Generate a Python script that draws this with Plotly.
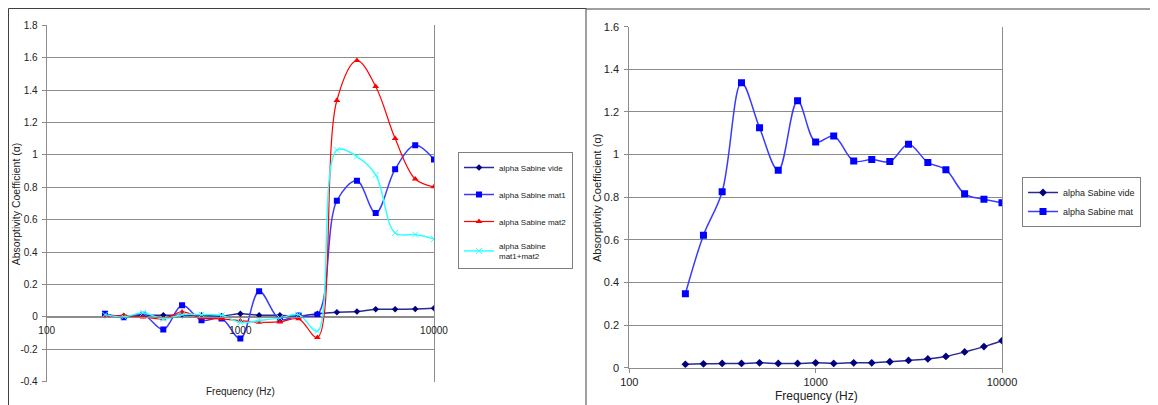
import plotly.graph_objects as go

# ---------------- data ----------------
freq = [200, 250, 315, 400, 500, 630, 800, 1000, 1250, 1600, 2000, 2500,
        3150, 4000, 5000, 6300, 8000, 10000]

# left chart
left_vide = [0.01, 0.005, 0.01, 0.01, 0.01, 0.01, 0.005, 0.02, 0.01, 0.01, 0.005, 0.02,
             0.029, 0.033, 0.047, 0.047, 0.049, 0.053]
left_mat1 = [0.02, -0.002, 0.014, -0.078, 0.072, -0.02, -0.01, -0.134, 0.158, -0.016, 0.008, 0.014,
             0.717, 0.84, 0.641, 0.912, 1.06, 0.972]
left_mat2 = [0.004, 0.008, 0.0, -0.012, 0.031, -0.006, -0.012, -0.023, -0.033, -0.031, -0.012, -0.127,
             1.336, 1.582, 1.422, 1.101, 0.851, 0.803]
left_mat12 = [0.014, 0.0, 0.025, -0.012, 0.014, 0.014, 0.01, -0.035, -0.022, -0.006, 0.014, -0.088,
              1.03, 0.99, 0.877, 0.518, 0.508, 0.481]

# right chart
right_vide = [0.016, 0.018, 0.02, 0.02, 0.023, 0.02, 0.02, 0.023, 0.02, 0.023, 0.023, 0.028,
              0.034, 0.041, 0.053, 0.074, 0.099, 0.127]
right_mat = [0.347, 0.622, 0.826, 1.337, 1.126, 0.926, 1.253, 1.059, 1.087, 0.970, 0.977, 0.967,
             1.049, 0.963, 0.929, 0.816, 0.790, 0.774]

left_yticks = [-0.4, -0.2, 0, 0.2, 0.4, 0.6, 0.8, 1, 1.2, 1.4, 1.6, 1.8]
left_ytext = ["-0.4", "-0.2", "0", "0.2", "0.4", "0.6", "0.8", "1", "1.2", "1.4", "1.6", "1.8"]
right_yticks = [0, 0.2, 0.4, 0.6, 0.8, 1, 1.2, 1.4, 1.6]
right_ytext = ["0", "0.2", "0.4", "0.6", "0.8", "1", "1.2", "1.4", "1.6"]
xticks = [100, 1000, 10000]
xtext = ["100", "1000", "10000"]

# ---------------- layout geometry ----------------
# the page body has an 8px margin, so the figure is offset by 8px
OFF = 8
W, H = 1158 - OFF, 405 - OFF
def px(x):
    return (x - OFF) / W
def py(y):
    return 1 - (y - OFF) / H

GRID = "#8c8c8c"
TXT = "#222222"
FONT = "Liberation Sans, Arial, sans-serif"

L_x0, L_x1, L_y0, L_y1 = 46.7, 434, 25.3, 381.7
R_x0, R_x1, R_y0, R_y1 = 629.3, 1002, 26.7, 367.7
L_ymin, L_ymax = -0.4, 1.8
zero_frac = py(L_y1) + (0 - L_ymin) / (L_ymax - L_ymin) * (py(L_y0) - py(L_y1))

fig = go.Figure()

NAVY = "#000080"
NAVYL = "#2a2a90"
BLUE = "#0000ff"
BLUEL = "#3b3bff"
RED = "#ff0000"
CYAN = "#33ffff"

sm = 1.0
# left traces
fig.add_trace(go.Scatter(x=freq, y=left_vide, name="alpha Sabine vide", mode="lines+markers",
                         line=dict(color=NAVYL, width=1.5, shape="spline", smoothing=sm),
                         marker=dict(symbol="diamond", size=5, color=NAVY),
                         xaxis="x", yaxis="y", legend="legend", legendgroup="a"))
fig.add_trace(go.Scatter(x=freq, y=left_mat1, name="alpha Sabine mat1", mode="lines+markers",
                         line=dict(color=BLUEL, width=1.5, shape="spline", smoothing=sm),
                         marker=dict(symbol="square", size=6, color=BLUE),
                         xaxis="x", yaxis="y", legend="legend", legendgroup="b"))
fig.add_trace(go.Scatter(x=freq, y=left_mat2, name="alpha Sabine mat2", mode="lines+markers",
                         line=dict(color=RED, width=1.2, shape="spline", smoothing=sm),
                         marker=dict(symbol="triangle-up", size=6, color=RED),
                         xaxis="x", yaxis="y", legend="legend", legendgroup="c"))
fig.add_trace(go.Scatter(x=freq, y=left_mat12, name="alpha Sabine<br>mat1+mat2", mode="lines+markers",
                         line=dict(color=CYAN, width=1.5, shape="spline", smoothing=sm),
                         marker=dict(symbol="x-thin", size=6, color=CYAN, line=dict(color=CYAN, width=1)),
                         xaxis="x", yaxis="y", legend="legend", legendgroup="d"))

# right traces
fig.add_trace(go.Scatter(x=freq, y=right_vide, name="alpha Sabine vide", mode="lines+markers",
                         line=dict(color=NAVYL, width=1.5, shape="spline", smoothing=sm),
                         marker=dict(symbol="diamond", size=6, color=NAVY),
                         xaxis="x2", yaxis="y2", legend="legend2"))
fig.add_trace(go.Scatter(x=freq, y=right_mat, name="alpha Sabine mat", mode="lines+markers",
                         line=dict(color=BLUEL, width=1.5, shape="spline", smoothing=sm),
                         marker=dict(symbol="square", size=7, color=BLUE),
                         xaxis="x2", yaxis="y2", legend="legend2"))

axis_common = dict(showgrid=False, zeroline=False, showline=True, linecolor=GRID, linewidth=1,
                   ticks="outside", ticklen=4, tickcolor=GRID, automargin=False)

fig.update_layout(
    width=W, height=H,
    margin=dict(l=0, r=0, t=0, b=0, autoexpand=False),
    paper_bgcolor="white", plot_bgcolor="white",
    font=dict(family=FONT, color=TXT),
    xaxis=dict(type="log", range=[2, 4], domain=[px(L_x0), px(L_x1)], anchor="free",
               position=zero_frac, tickvals=xticks, ticktext=xtext,
               tickfont=dict(size=10), **axis_common),
    yaxis=dict(range=[L_ymin, L_ymax], domain=[py(L_y1), py(L_y0)], anchor="x",
               tickvals=left_yticks, ticktext=left_ytext, tickfont=dict(size=10),
               showgrid=True, gridcolor=GRID, gridwidth=1, mirror=True,
               showline=True, linecolor=GRID, zeroline=False, ticks="outside", ticklen=4,
               tickcolor=GRID, ticklabelstandoff=2, automargin=False),
    xaxis2=dict(type="log", range=[2, 4], domain=[px(R_x0), px(R_x1)], anchor="y2",
                tickvals=xticks, ticktext=xtext, tickfont=dict(size=11), **axis_common),
    yaxis2=dict(range=[0, 1.6], domain=[py(R_y1), py(R_y0)], anchor="x2",
                tickvals=right_yticks, ticktext=right_ytext, tickfont=dict(size=11),
                showgrid=True, gridcolor=GRID, gridwidth=1, mirror=True,
                showline=True, linecolor=GRID, zeroline=False, ticks="outside", ticklen=4,
                tickcolor=GRID, ticklabelstandoff=3, automargin=False),
    legend=dict(x=px(458), y=py(152), xanchor="left", yanchor="top",
                bordercolor="#808080", borderwidth=1, bgcolor="white",
                font=dict(size=8, color=TXT), tracegroupgap=8, itemwidth=30,
                traceorder="grouped"),
    legend2=dict(x=px(1022), y=py(177), xanchor="left", yanchor="top",
                 bordercolor="#808080", borderwidth=1, bgcolor="white",
                 font=dict(size=9, color=TXT), tracegroupgap=0, itemwidth=30),
    showlegend=True,
)

# axis titles as annotations
ann = [
    dict(text="Frequency (Hz)", x=px(240), y=py(391), font=dict(size=10)),
    dict(text="Frequency (Hz)", x=px(816), y=py(396), font=dict(size=12)),
    dict(text="Absorptivity Coefficient (α)", x=px(16.3), y=py(204), textangle=-90, font=dict(size=10.5)),
    dict(text="Absorptivity Coefficient (α)", x=px(597), y=py(198), textangle=-90, font=dict(size=11)),
]
for a in ann:
    fig.add_annotation(xref="paper", yref="paper", showarrow=False, xanchor="center",
                       yanchor="middle", font_color=TXT, **{k: v for k, v in a.items()})

# panel borders
BORDER = "#404040"
shapes = [
    dict(x0=px(8.5), x1=px(8.5), y0=py(8.5), y1=0),
    dict(x0=px(8.5), x1=px(586), y0=py(8.5), y1=py(8.5)),
    dict(x0=px(586), x1=px(586), y0=py(8.5), y1=0),
    dict(x0=px(586), x1=1, y0=py(9), y1=py(9)),
]
for s in shapes:
    fig.add_shape(type="line", xref="paper", yref="paper", line=dict(color=BORDER, width=1), **s)

fig.write_html("out.html")
